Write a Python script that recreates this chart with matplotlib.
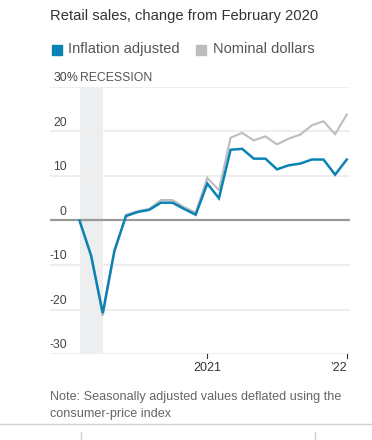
import matplotlib.pyplot as plt
from matplotlib.lines import Line2D
from matplotlib.patches import Rectangle

# Monthly data, Feb 2020 - Jan 2022 (% change from February 2020)
months = ['Feb 2020', 'Mar', 'Apr', 'May', 'Jun', 'Jul', 'Aug', 'Sep', 'Oct', 'Nov', 'Dec',
          'Jan 2021', 'Feb', 'Mar', 'Apr', 'May', 'Jun', 'Jul', 'Aug', 'Sep', 'Oct', 'Nov', 'Dec',
          'Jan 2022']
inflation_adjusted = [0, -7.9, -20.8, -6.8, 1.0, 1.9, 2.4, 4.0, 4.0, 2.6, 1.3,
                      8.3, 5.0, 15.9, 16.1, 13.9, 13.9, 11.5, 12.4, 12.8, 13.7, 13.7, 10.3,
                      13.7]
nominal = [0, -8.0, -21.4, -7.2, 1.3, 2.1, 2.6, 4.6, 4.6, 3.0, 1.8,
           9.6, 6.8, 18.6, 19.7, 18.0, 18.9, 17.1, 18.4, 19.3, 21.4, 22.3, 19.4,
           23.8]
yticks = [30, 20, 10, 0, -10, -20, -30]
xtick_pos = [11, 23]
xtick_labels = ['2021', '\u201922']
recession = (0, 2)

blue = '#0a82b4'
grey = '#bdbdbd'
W, H = 372, 440

fig = plt.figure(figsize=(W / 100, H / 100), dpi=100)
fig.patch.set_facecolor('white')

def fx(px):
    return px / W

def fy(py):
    return 1 - py / H

sans = ['Liberation Sans', 'DejaVu Sans']
narrow = ['Liberation Sans Narrow', 'Liberation Sans', 'DejaVu Sans']

# title and legend
fig.text(fx(50), fy(16), 'Retail sales, change from February 2020', fontsize=10.6,
         color='#333333', family=sans, va='center', ha='left')
fig.patches.append(Rectangle((fx(52), fy(55)), 10 / W, 10 / H, transform=fig.transFigure,
                             color=blue, figure=fig))
fig.text(fx(68), fy(49), 'Inflation adjusted', fontsize=10.5, color='#555555',
         family=sans, va='center', ha='left')
fig.patches.append(Rectangle((fx(196), fy(55)), 10 / W, 10 / H, transform=fig.transFigure,
                             color=grey, figure=fig))
fig.text(fx(213), fy(49), 'Nominal dollars', fontsize=10.5, color='#555555',
         family=sans, va='center', ha='left')

# plot area
ax = fig.add_axes([fx(50), fy(354), 300 / W, (354 - 87) / H])
x = list(range(len(months)))
ax.set_xlim(-2.54, 23.28)
ax.set_ylim(-30, 30)
for s in ax.spines.values():
    s.set_visible(False)
ax.set_xticks([])
ax.set_yticks([])

ax.axvspan(recession[0], recession[1], color='#eceef0', lw=0, zorder=0)
for v in yticks:
    if v == 0:
        ax.axhline(v, color='#999999', lw=1.6, zorder=1)
    else:
        ax.axhline(v, color='#eeeeee', lw=1.5, zorder=1)

ax.plot(x, nominal, color=grey, lw=1.5, zorder=3, solid_joinstyle='miter')
ax.plot(x, inflation_adjusted, color=blue, lw=1.8, zorder=4, solid_joinstyle='miter')

# y tick labels, sitting on the gridlines
for v in yticks:
    ax.text(-1.1, v + 0.6, str(v), transform=ax.transData, fontsize=8.8, color='#444444',
            family=narrow, ha='right', va='bottom')
ax.text(-1.1, 30.6, '%', fontsize=8.8, color='#444444', family=narrow, ha='left', va='bottom')
ax.text(0.05, 30.6, 'RECESSION', fontsize=8.8, color='#555555', family=narrow,
        ha='left', va='bottom')

# x ticks below the bottom gridline
for p, lab in zip(xtick_pos, xtick_labels):
    ax.plot([p, p], [-30, -30.9], color='#333333', lw=0.8, clip_on=False)
    ax.text(p, -33.2, lab, fontsize=9, color='#333333', family=narrow,
            ha='right' if lab.startswith('\u2019') else 'center', va='center')

# note
fig.text(fx(50), fy(397), 'Note: Seasonally adjusted values deflated using the',
         fontsize=9.1, color='#666666', family=narrow, va='center', ha='left')
fig.text(fx(50), fy(414), 'consumer-price index',
         fontsize=9.1, color='#666666', family=narrow, va='center', ha='left')

# page rules under the chart
fig.lines.append(Line2D([0, 1], [fy(424), fy(424)], transform=fig.transFigure,
                        color='#d0d0d0', lw=1))
for px in [81, 315]:
    fig.lines.append(Line2D([fx(px), fx(px)], [fy(432), 0], transform=fig.transFigure,
                            color='#d0d0d0', lw=1))

fig.savefig('out.png', dpi=100)
